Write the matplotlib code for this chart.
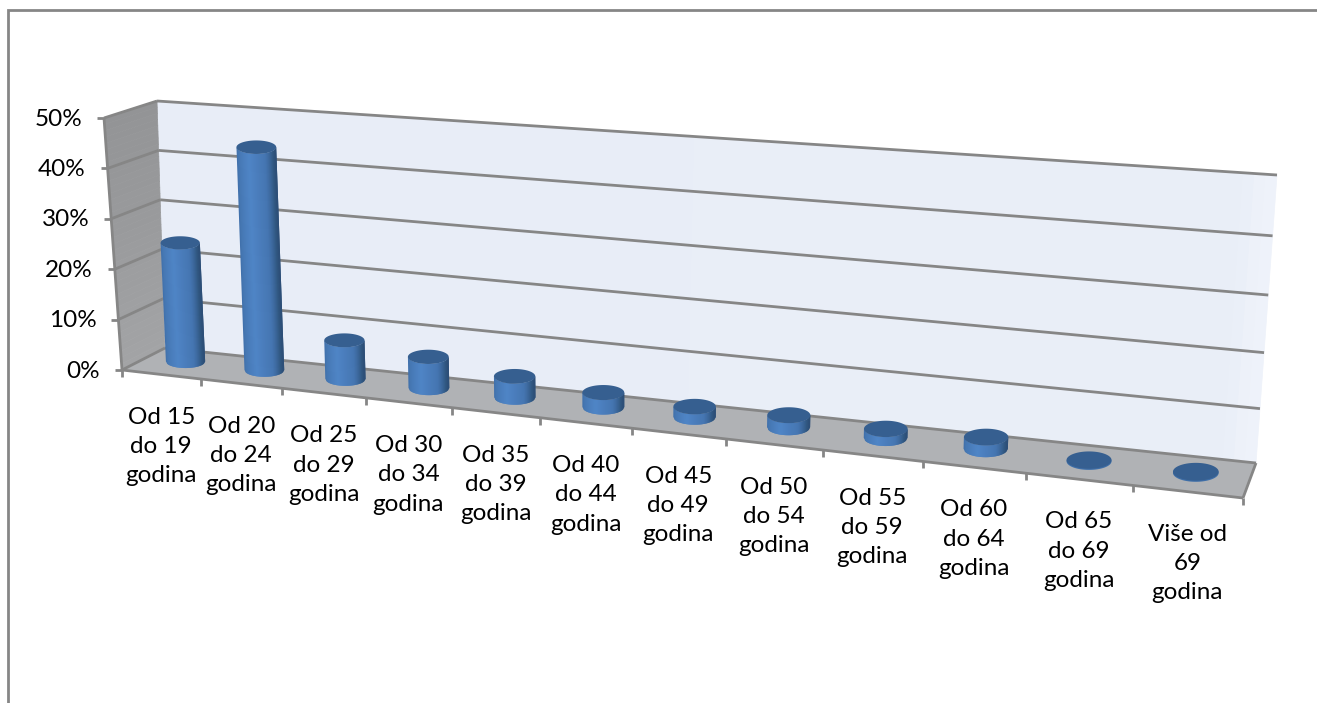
import numpy as np
import matplotlib
matplotlib.use("Agg")
import matplotlib.pyplot as plt
from matplotlib.collections import PolyCollection
from matplotlib.colors import LinearSegmentedColormap
from matplotlib.patches import Polygon

plt.rcParams['font.family'] = ['Lato', 'DejaVu Sans']

categories = ["Od 15\ndo 19\ngodina", "Od 20\ndo 24\ngodina", "Od 25\ndo 29\ngodina",
              "Od 30\ndo 34\ngodina", "Od 35\ndo 39\ngodina", "Od 40\ndo 44\ngodina",
              "Od 45\ndo 49\ngodina", "Od 50\ndo 54\ngodina", "Od 55\ndo 59\ngodina",
              "Od 60\ndo 64\ngodina", "Od 65\ndo 69\ngodina", "Više od\n69\ngodina"]
values = [23.7, 44.0, 7.6, 6.1, 4.1, 2.8, 2.0, 2.3, 1.7, 2.2, 0.0, 0.0]
y_ticks = [0, 10, 20, 30, 40, 50]

W, H = 1317, 703
fig = plt.figure(figsize=(W / 100, H / 100), dpi=100)
ax = fig.add_axes([0, 0, 1, 1])
ax.set_xlim(0, W)
ax.set_ylim(H, 0)
ax.axis('off')

GRAY = '#868686'
FL, FR = np.array([122., 370.]), np.array([1243., 498.])
BL, BR = np.array([165., 348.]), np.array([1256., 463.])
HFL, HFR = np.array([-18., -252.]), np.array([11., -293.])
HBL, HBR = np.array([-8., -247.]), np.array([21., -288.])
N = len(categories)


def warp(u):
    return u / (u + 1.2 * (N - u))


def project(u, v, h):
    """Category position u, depth v (0 front, 1 back), value h (percent) to canvas."""
    s = warp(u)
    x = h / 50.0
    f = x + s * 0.07 * (x * x - x)
    front = FL + s * (FR - FL)
    back = BL + s * (BR - BL)
    hf = HFL + s * (HFR - HFL)
    hb = HBL + s * (HBR - HBL)
    return (1 - v) * front + v * back + f * ((1 - v) * hf + v * hb)


def line(p, q, lw=2.0, color=GRAY, z=3):
    ax.plot([p[0], q[0]], [p[1], q[1]], color=color, lw=lw, solid_capstyle='butt', zorder=z)


def strips(polys, levels, cmap, z, lw=0.5):
    pc = PolyCollection(polys, array=np.asarray(levels), cmap=cmap, clim=(0, 1),
                        edgecolors='face' if lw else 'none', linewidths=lw, zorder=z)
    pc.set_snap(False)
    ax.add_collection(pc)


def quad_gradient(p00, p10, p01, p11, cmap, z, n=40, horizontal=True):
    """Gradient over a quad; runs p00->p10 if horizontal, otherwise p00->p01."""
    t = np.linspace(0, 1, n + 1)
    polys, levels = [], []
    for t0, t1 in zip(t[:-1], t[1:]):
        if horizontal:
            a0, a1 = p00 + t0 * (p10 - p00), p00 + t1 * (p10 - p00)
            b0, b1 = p01 + t0 * (p11 - p01), p01 + t1 * (p11 - p01)
        else:
            a0, a1 = p00 + t0 * (p01 - p00), p10 + t0 * (p11 - p10)
            b0, b1 = p00 + t1 * (p01 - p00), p10 + t1 * (p11 - p10)
        polys.append([a0, a1, b1, b0])
        levels.append((t0 + t1) / 2)
    strips(polys, levels, cmap, z)


# Outer frame
ax.plot([8, 8, W], [H, 10, 10], color=GRAY, lw=2.0, solid_joinstyle='miter', zorder=1)

# Walls and floor
wall_cmap = LinearSegmentedColormap.from_list('w', [(0, '#e8edf7'), (0.97, '#e9eef7'), (1, '#eff3fa')])
side_cmap = LinearSegmentedColormap.from_list('s', ['#939496', '#9a9b9d', '#a3a4a6'])
quad_gradient(project(0, 1, 50), project(N, 1, 50), project(0, 1, 0), project(N, 1, 0), wall_cmap, 2, n=100)
quad_gradient(project(0, 1, 50), project(0, 0, 50), project(0, 1, 0), project(0, 0, 0), side_cmap, 2, n=40, horizontal=False)
ax.add_patch(Polygon([project(0, 0, 0), project(N, 0, 0), project(N, 1, 0), project(0, 1, 0)],
                     closed=True, fc='#b0b2b5', ec='none', zorder=2.1))

# Gridlines and value axis
for v in y_ticks:
    line(project(0, 1, v), project(N, 1, v))
    line(project(0, 0, v), project(0, 1, v))
    p = project(0, 0, v)
    line(p + np.array([-7, 0]), p)
    ax.text(p[0] - 22, p[1] + 1, f"{v}%", ha='right', va='center', fontsize=17.5, color='black', zorder=6)
line(project(0, 0, 0), project(0, 0, 50))
line(project(N, 0, 0), project(N, 1, 0))

# Category axis
line(project(0, 0, 0), project(N, 0, 0))
for i in range(N + 1):
    p = project(i, 0, 0)
    line(p, p + np.array([0, 7]))
for i, label in enumerate(categories):
    p = project(i + 0.5, 0, 0)
    ax.text(p[0], p[1] + 72, label, ha='center', va='center', fontsize=17.5,
            linespacing=1.49, color='black', zorder=6)

# Cylinders
cyl_cmap = LinearSegmentedColormap.from_list('c', [
    (0.0, '#3d6ca6'), (0.12, '#4475b0'), (0.38, '#4f85c6'), (0.65, '#4575b1'),
    (0.82, '#305680'), (0.92, '#2b4c74'), (1.0, '#3a659a')])
cross = np.linspace(-1, 1, 41)
full = np.linspace(0, 2 * np.pi, 121)
for i, v in enumerate(values):
    base = project(i + 0.5, 0.58, 0)
    top = project(i + 0.5, 0.58, v)
    s = warp(i + 0.5)
    a = 19.5 + 3.5 * s
    b = 6.5 + 2.5 * s
    z = 10 + i
    if v > 0:
        polys, levels = [], []
        for k, c0 in enumerate(cross[:-1]):
            # each strip runs under the next one, so no seam shows between them
            c1 = cross[min(k + 2, len(cross) - 1)]
            d0, d1 = np.sqrt(1 - c0 * c0), np.sqrt(1 - c1 * c1)
            polys.append([(base[0] + a * c0, base[1] + b * d0), (base[0] + a * c1, base[1] + b * d1),
                          (top[0] + a * c1, top[1] + b * d1), (top[0] + a * c0, top[1] + b * d0)])
            levels.append(np.arccos(-(c0 + cross[k + 1]) / 2) / np.pi)
        strips(polys, levels, cyl_cmap, z, lw=0)
    else:
        ax.fill(top[0] + a * np.cos(full), top[1] + 1.2 + b * np.sin(full), color='#3f6fa8', lw=0, zorder=z)
    ax.fill(top[0] + a * np.cos(full), top[1] + b * np.sin(full), color='#365f90', lw=0, zorder=z + 0.5)

fig.savefig('out.png', dpi=100, facecolor='white')
